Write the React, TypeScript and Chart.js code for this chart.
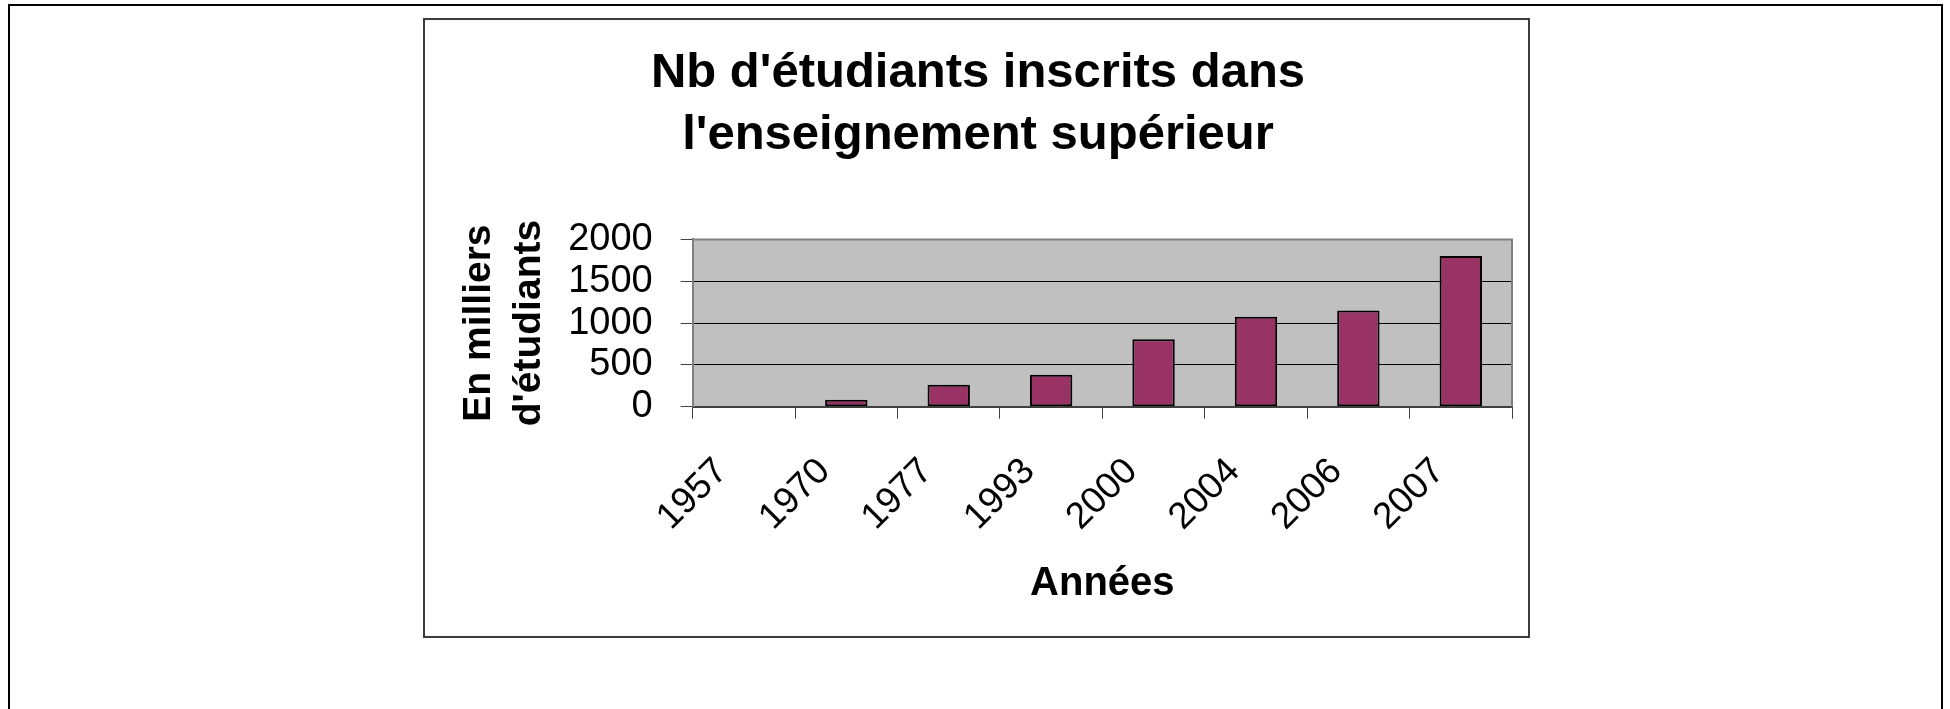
import React, { useEffect, useRef } from 'react';
import { Chart, registerables } from 'chart.js';

Chart.register(...registerables);

const years = ['1957', '1970', '1977', '1993', '2000', '2004', '2006', '2007'];
const students = [0, 83, 262, 381, 806, 1075, 1151, 1802];
const yMin = 0;
const yMax = 2000;
const yStep = 500;
const titleLines = ["Nb d'étudiants inscrits dans", "l'enseignement supérieur"];
const yTitleLines = ['En milliers', "d'étudiants"];
const xTitle = 'Années';

const FAMILY = "'Liberation Sans', Arial, Helvetica, sans-serif";

const plotFrame = {
  id: 'plotFrame',
  beforeDraw(chart: any) {
    const { ctx, chartArea } = chart;
    const { left, top, right, bottom } = chartArea;
    ctx.save();
    ctx.fillStyle = '#C0C0C0';
    ctx.fillRect(left, top, right - left, bottom - top);
    ctx.restore();
  },
  afterDraw(chart: any) {
    const { ctx, chartArea } = chart;
    const { left, top, right, bottom } = chartArea;
    ctx.save();
    ctx.strokeStyle = '#808080';
    ctx.lineWidth = 2;
    ctx.beginPath();
    ctx.moveTo(left, top);
    ctx.lineTo(right, top);
    ctx.lineTo(right, bottom);
    ctx.stroke();
    ctx.restore();
  },
};

export default function App() {
  const canvasRef = useRef<HTMLCanvasElement | null>(null);

  useEffect(() => {
    const canvas = canvasRef.current;
    if (!canvas) return;
    const chart = new Chart(canvas, {
      type: 'bar',
      data: {
        labels: years,
        datasets: [
          {
            data: students,
            backgroundColor: '#993366',
            borderColor: '#000000',
            borderWidth: 2,
            borderSkipped: false,
            barPercentage: 0.414,
            categoryPercentage: 1,
          },
        ],
      },
      plugins: [plotFrame],
      options: {
        responsive: false,
        animation: false,
        devicePixelRatio: 1,
        layout: { padding: { left: 21, right: 18, top: 0, bottom: 0 } },
        plugins: {
          legend: { display: false },
          tooltip: { enabled: false },
          title: {
            display: true,
            text: titleLines,
            color: '#000000',
            font: { family: FAMILY, size: 49, weight: 'bold', lineHeight: 1.27 },
            padding: { top: 24.5, bottom: 72.5 },
          },
        },
        scales: {
          x: {
            offset: true,
            afterFit: (scale: any) => {
              scale.height = 231.3;
            },
            grid: {
              display: true,
              offset: true,
              drawOnChartArea: false,
              drawTicks: true,
              tickLength: 12,
              tickColor: '#404040',
              tickWidth: 1,
            },
            border: { display: true, color: '#404040', width: 2 },
            ticks: {
              autoSkip: false,
              minRotation: 45,
              maxRotation: 45,
              padding: 31,
              labelOffset: -22,
              color: '#000000',
              font: { family: FAMILY, size: 37 },
            },
            title: {
              display: true,
              text: xTitle,
              color: '#000000',
              font: { family: FAMILY, size: 40, weight: 'bold' },
              padding: { top: 0, bottom: 30.5 },
            },
          },
          y: {
            min: yMin,
            max: yMax,
            afterFit: (scale: any) => {
              scale.width = 248.7;
            },
            grid: {
              display: true,
              color: '#000000',
              lineWidth: 1,
              drawTicks: true,
              tickLength: 12,
              tickColor: '#404040',
              tickWidth: 1,
            },
            border: { display: true, color: '#808080', width: 2 },
            ticks: {
              stepSize: yStep,
              autoSkip: false,
              padding: 28,
              color: '#000000',
              font: { family: FAMILY, size: 38 },
              callback: (v: any) => String(v),
            },
            title: {
              display: true,
              text: yTitleLines,
              color: '#000000',
              font: { family: FAMILY, size: 39, weight: 'bold', lineHeight: 1.3 },
              padding: { top: 9.5, bottom: 0 },
            },
          },
        },
      },
    } as any);
    return () => chart.destroy();
  }, []);

  return (
    <div style={{ position: 'absolute', left: 0, top: 0, width: 1950, height: 709, overflow: 'hidden', background: '#ffffff' }}>
      <div
        style={{
          position: 'absolute',
          left: 8,
          top: 4,
          width: 1935,
          height: 800,
          border: '2px solid #000000',
          boxSizing: 'border-box',
        }}
      />
      <div
        style={{
          position: 'absolute',
          left: 423,
          top: 18,
          width: 1107,
          height: 620,
          border: '2px solid #3c3c3c',
          boxSizing: 'border-box',
        }}
      />
      <canvas
        ref={canvasRef}
        width={1107}
        height={620}
        style={{ position: 'absolute', left: 423, top: 18, width: 1107, height: 620 }}
      />
    </div>
  );
}
